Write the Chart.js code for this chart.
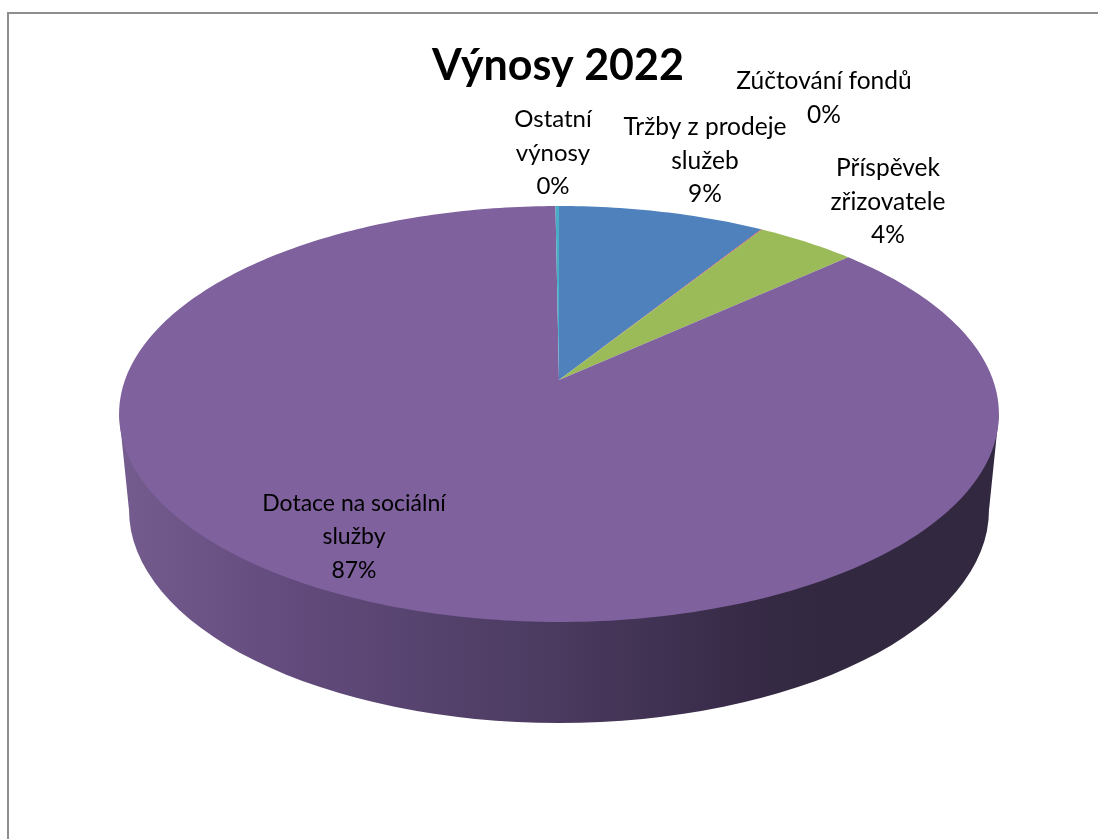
<!DOCTYPE html>
<html>
<head>
<meta charset="utf-8">
<title>Výnosy 2022</title>
<script src="https://cdn.jsdelivr.net/npm/chart.js@4/dist/chart.umd.min.js"></script>
<style>
  html, body { margin: 0; background: #fff; overflow: hidden; }
  #frame { position: absolute; left: 7px; top: 12px; right: 0; bottom: 0; border-top: 2px solid #8e8e8e; border-left: 2px solid #8e8e8e; }
  canvas { position: absolute; left: 0; top: 0; }
</style>
</head>
<body>
<div id="frame"></div>
<canvas id="vynosyChart" width="1098" height="839"></canvas>
<script>
// Podíly výnosů v procentech, popisky se zaokrouhlují na celá čísla
const categories = ['Tržby z prodeje služeb', 'Zúčtování fondů', 'Příspěvek zřizovatele', 'Dotace na sociální služby', 'Ostatní výnosy'];
const shares = [8.9, 0.05, 4.3, 86.6, 0.15];
const colors = ['#4f81bd', '#c0504d', '#9bbb59', '#7f619e', '#4bacc6'];
const labelLines = [['Tržby z prodeje', 'služeb'], ['Zúčtování fondů'], ['Příspěvek', 'zřizovatele'], ['Dotace na sociální', 'služby'], ['Ostatní', 'výnosy']];
const labelCenters = [[705, 161], [824, 98], [888, 202], [354, 537], [553, 153]];
const labelFonts = ['24.5px Lato', '24.5px Lato', '24.5px Lato', '23px Lato', '24px Lato'];

// Geometrie perspektivy koláče
const pie = { cx: 559, cy: 380, a: 434, b: 202.4, k: 0.1635 };
const base = { cx: 559, cy: 510, rx: 430, ry: 213 };

// Bod na obvodu: úhel z Chart.js (-PI/2 = nahoře) promítnutý do roviny obrazu
function project(angle) {
  const u = Math.cos(angle), v = Math.sin(angle);
  const w = 1 - pie.k * v;
  return [pie.cx + pie.a * u / w, pie.cy + pie.b * v / w];
}

function drawWall(ctx) {
  const left = project(Math.PI - Math.asin(pie.k));
  const right = project(Math.asin(pie.k));
  const grad = ctx.createLinearGradient(120, 0, 1000, 0);
  grad.addColorStop(0, '#745d8e');
  grad.addColorStop(0.2, '#624b7c');
  grad.addColorStop(0.5, '#4a3a5f');
  grad.addColorStop(0.72, '#362a46');
  grad.addColorStop(0.8, '#32283f');
  grad.addColorStop(1, '#32283f');
  ctx.beginPath();
  ctx.moveTo(left[0], left[1]);
  ctx.lineTo(base.cx - base.rx, base.cy);
  ctx.ellipse(base.cx, base.cy, base.rx, base.ry, 0, Math.PI, 0, true);
  ctx.lineTo(right[0], right[1]);
  ctx.closePath();
  ctx.fillStyle = grad;
  ctx.fill();
}

function drawSlice(ctx, arc) {
  const steps = Math.max(2, Math.ceil((arc.endAngle - arc.startAngle) * 60));
  ctx.beginPath();
  ctx.moveTo(pie.cx, pie.cy);
  for (let i = 0; i <= steps; i++) {
    const p = project(arc.startAngle + (arc.endAngle - arc.startAngle) * i / steps);
    ctx.lineTo(p[0], p[1]);
  }
  ctx.closePath();
  ctx.fillStyle = arc.options.backgroundColor;
  ctx.fill();
}

// Prostorový koláč: výseče z prvků grafu, plášť pod nimi, popisky nad nimi
const pie3d = {
  id: 'pie3d',
  beforeDatasetDraw(chart) {
    const ctx = chart.ctx;
    ctx.save();
    drawWall(ctx);
    const arcs = chart.getDatasetMeta(0).data;
    arcs.forEach(arc => drawSlice(ctx, arc));
    ctx.restore();
    return false;
  },
  afterDatasetsDraw(chart) {
    const ctx = chart.ctx;
    const total = shares.reduce((a, b) => a + b, 0);
    ctx.save();
    ctx.fillStyle = '#000';
    ctx.textAlign = 'center';
    ctx.textBaseline = 'middle';
    const lineHeight = 33.5;
    shares.forEach((value, i) => {
      ctx.font = labelFonts[i];
      const lines = labelLines[i].concat(Math.round(value / total * 100) + '%');
      const top = labelCenters[i][1] - (lines.length - 1) * lineHeight / 2;
      lines.forEach((line, n) => ctx.fillText(line, labelCenters[i][0], top + n * lineHeight));
    });
    ctx.restore();
  }
};

new Chart(document.getElementById('vynosyChart'), {
  type: 'pie',
  data: {
    labels: categories,
    datasets: [{ data: shares, backgroundColor: colors, borderWidth: 0 }]
  },
  options: {
    responsive: false,
    animation: false,
    layout: { padding: { left: 18 } },
    plugins: {
      legend: { display: false },
      tooltip: { enabled: false },
      title: {
        display: true,
        text: 'Výnosy 2022',
        color: '#000',
        font: { family: 'Lato', size: 43, weight: 'bold' },
        padding: { top: 40, bottom: 0 }
      }
    }
  },
  plugins: [pie3d]
});
</script>
</body>
</html>
